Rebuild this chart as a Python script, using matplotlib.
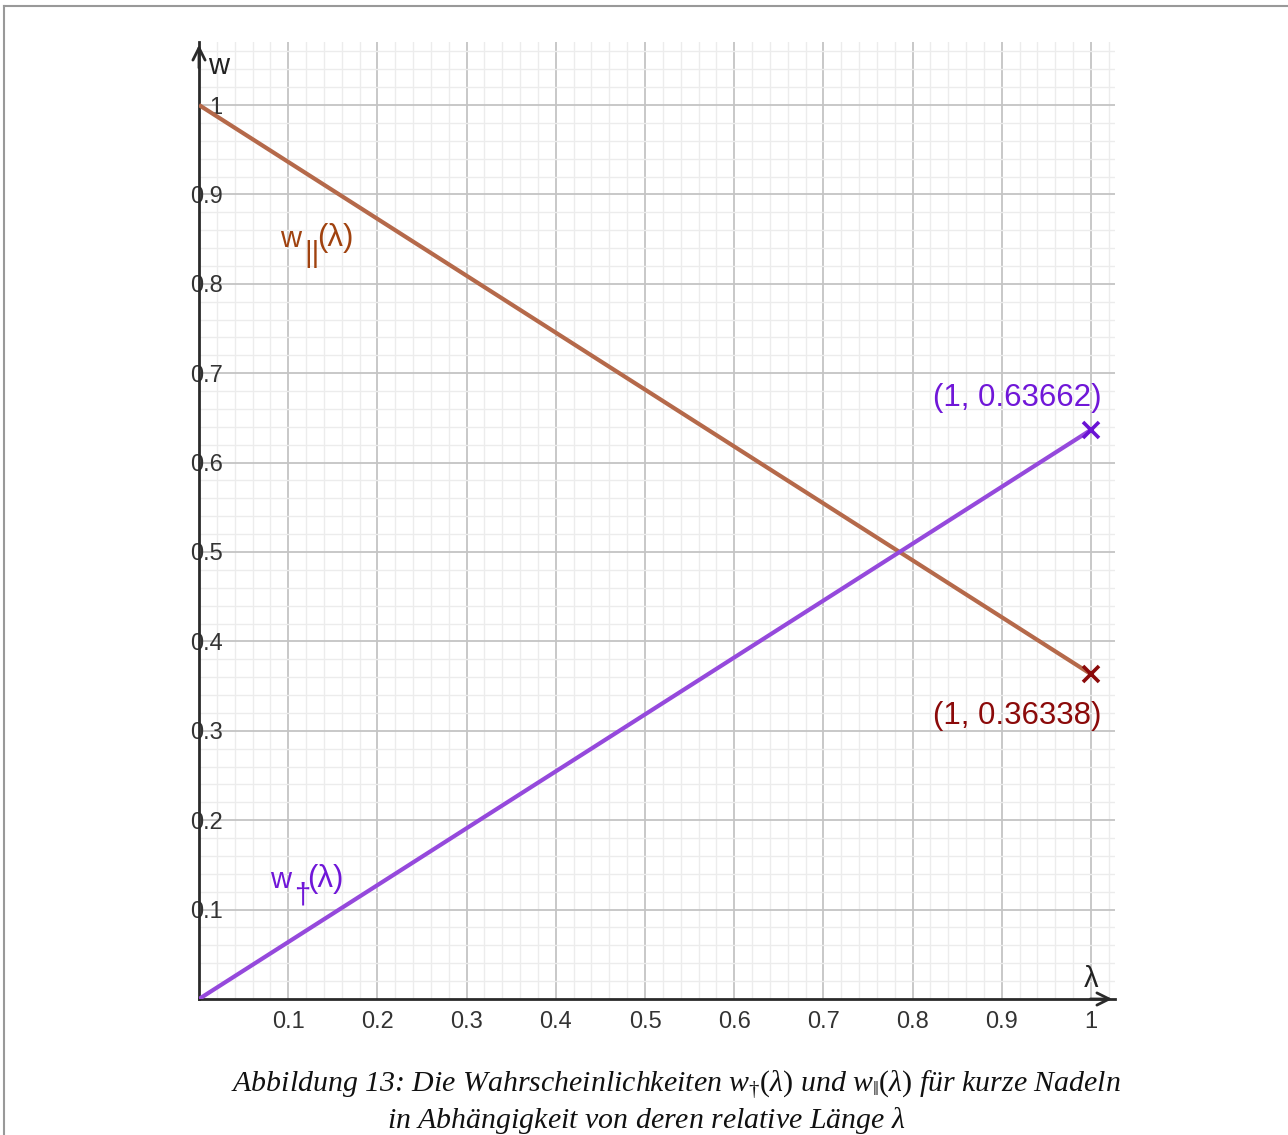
import numpy as np
import matplotlib
matplotlib.use("Agg")
from matplotlib import pyplot as plt
from matplotlib.lines import Line2D

plt.rcParams['font.family'] = ['Liberation Sans', 'DejaVu Sans']
plt.rcParams['mathtext.fontset'] = 'custom'
plt.rcParams['mathtext.rm'] = 'Liberation Serif'
plt.rcParams['mathtext.it'] = 'Liberation Serif:italic'

# data
lam = [0, 1]
w_perp = [0, 0.63662]
w_par = [1, 0.36338]
x_ticks = [0.1, 0.2, 0.3, 0.4, 0.5, 0.6, 0.7, 0.8, 0.9, 1]
x_labels = ["0.1", "0.2", "0.3", "0.4", "0.5", "0.6", "0.7", "0.8", "0.9", "1"]
y_ticks = [0.1, 0.2, 0.3, 0.4, 0.5, 0.6, 0.7, 0.8, 0.9, 1]
y_labels = ["0.1", "0.2", "0.3", "0.4", "0.5", "0.6", "0.7", "0.8", "0.9", "1"]

fig = plt.figure(figsize=(12.88, 11.35), dpi=100)
ax = fig.add_axes([199 / 1288, 136 / 1135, 916 / 1288, 957 / 1135])
ax.set_xlim(0, 916 / 892)
ax.set_ylim(0, 957 / 894)

# grid
ax.set_xticks(np.arange(0.02, 1.03, 0.02), minor=True)
ax.set_yticks(np.arange(0.02, 1.07, 0.02), minor=True)
ax.set_xticks(x_ticks, x_labels)
ax.set_yticks(y_ticks, y_labels)
ax.grid(which='minor', color='#ececec', lw=1.0)
ax.grid(which='major', color='#c4c4c4', lw=1.3)
ax.set_axisbelow(True)
ax.tick_params(which='both', length=0)
ax.tick_params(axis='x', labelsize=17, colors='#333333', pad=9)
ax.tick_params(axis='y', labelsize=17, colors='#333333', pad=-17)
for s in ['top', 'right']:
    ax.spines[s].set_visible(False)
for s in ['left', 'bottom']:
    ax.spines[s].set_color('#2a2a2a')
    ax.spines[s].set_linewidth(2)
    ax.spines[s].set_zorder(1)

# axis arrows
ax.annotate('', xy=(1, 0), xycoords='axes fraction', xytext=(0.97, 0),
            arrowprops=dict(arrowstyle='->', color='#2a2a2a', lw=2, mutation_scale=22))
ax.annotate('', xy=(0, 1), xycoords='axes fraction', xytext=(0, 0.97),
            arrowprops=dict(arrowstyle='->', color='#2a2a2a', lw=2, mutation_scale=22))
ax.text(0.01, 1.044, 'w', fontsize=21, color='#222222', ha='left', va='center')
ax.text(1.0, 0.022, 'λ', fontsize=21, color='#222222', ha='center', va='center')

# lines
ax.plot(lam, w_par, color='#b5694a', lw=3, solid_capstyle='butt', zorder=3)
ax.plot(lam, w_perp, color='#9549dc', lw=3, solid_capstyle='butt', zorder=3)
ax.plot(lam[1], w_perp[1], marker='x', color='#6a12d4', ms=11, mew=2.6, zorder=4)
ax.plot(lam[1], w_par[1], marker='x', color='#8b0a0a', ms=11, mew=2.6, zorder=4)


def curve_label(x, y, sub, color):
    kw = dict(xycoords='data', textcoords='offset pixels', fontsize=21,
              color=color, ha='left', va='baseline')
    ax.annotate('w', (x, y), xytext=(0, 0), **kw)
    ax.annotate(sub, (x, y), xytext=(24, -15), **kw)
    ax.annotate('(λ)', (x, y), xytext=(37, 1), **dict(kw, fontsize=22.5))


curve_label(0.0908, 0.841, '||', '#a0420f')
curve_label(0.0796, 0.124, '†', '#7017d8')

ax.text(1.0116, 0.672, '(1, 0.63662)', fontsize=22.5, color='#7017d8', ha='right', va='center')
ax.text(1.0116, 0.3166, '(1, 0.36338)', fontsize=22.5, color='#8b0a0a', ha='right', va='center')

# frame
fig.add_artist(Line2D([4 / 1288, 1], [1 - 6 / 1135, 1 - 6 / 1135], color='#999999', lw=1.5))
fig.add_artist(Line2D([4 / 1288, 4 / 1288], [0, 1 - 6 / 1135], color='#999999', lw=1.5))

# caption
fig.text(676 / 1288, 1 - 1085 / 1135,
         r'Abbildung 13: Die Wahrscheinlichkeiten $w_†(\lambda)$ und $w_‖(\lambda)$ für kurze Nadeln',
         family='Liberation Serif', style='italic', fontsize=21.5, ha='center', va='center', color='#111111')
fig.text(646 / 1288, 1 - 1121 / 1135,
         r'in Abhängigkeit von deren relative Länge $\lambda$',
         family='Liberation Serif', style='italic', fontsize=21.5, ha='center', va='center', color='#111111')

fig.savefig('out.png', dpi=100)
